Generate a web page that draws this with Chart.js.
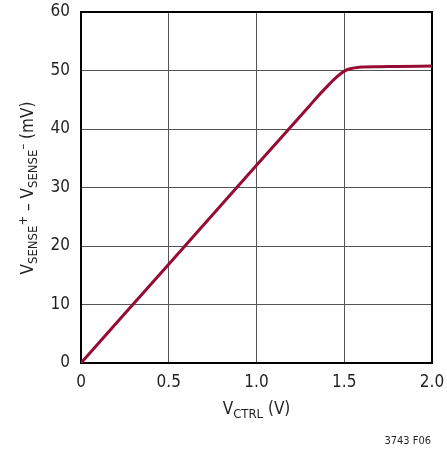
<!DOCTYPE html>
<html>
<head>
<meta charset="utf-8">
<script src="https://cdn.jsdelivr.net/npm/chart.js@4.4.1/dist/chart.umd.min.js"></script>
<style>
  html, body { margin: 0; padding: 0; background: #fff; }
  #wrap { width: 447px; height: 450px; }
</style>
</head>
<body>
<div id="wrap"><canvas id="chart" width="447" height="450"></canvas></div>
<script>
// values
const vCtrl = [0, 0.5, 1.0, 1.3, 1.35, 1.4, 1.45, 1.5, 1.55, 1.6, 1.7, 1.8, 2.0];
const vSense = [0, 16.9, 33.8, 43.9, 45.6, 47.2, 48.7, 49.9, 50.4, 50.6, 50.65, 50.7, 50.75];
const xTicks = [0, 0.5, 1.0, 1.5, 2.0];
const xTickLabels = ['0', '0.5', '1.0', '1.5', '2.0'];
const yTicks = [0, 10, 20, 30, 40, 50, 60];

const FONT = '"Liberation Sans Narrow", "DejaVu Sans Condensed", "Roboto", sans-serif';
const lineColor = '#980b32';

// draws a string made of normal / sub / sup pieces
function drawRichText(ctx, parts, x, y, size) {
    const pieceFont = p => (p.kind === 'normal' ? size : Math.round(size * 0.78)) + 'px ' + FONT;
    let total = 0;
    parts.forEach(p => {
        ctx.font = pieceFont(p);
        total += ctx.measureText(p.text).width;
    });
    let cx = x - total / 2;
    parts.forEach(p => {
        ctx.font = pieceFont(p);
        let dy = 0;
        if (p.kind === 'sub') dy = size * 0.25;
        if (p.kind === 'sup') dy = -size * 0.38;
        ctx.fillText(p.text, cx, y + dy);
        cx += ctx.measureText(p.text).width;
    });
}

const titlesPlugin = {
    id: 'titles',
    beforeDatasetsDraw(chart) {
        const ctx = chart.ctx;
        const a = chart.chartArea;
        ctx.save();
        ctx.strokeStyle = '#000';
        ctx.lineWidth = 2;
        ctx.strokeRect(a.left, a.top, a.right - a.left, a.bottom - a.top);
        ctx.restore();
    },
    afterDraw(chart) {
        const ctx = chart.ctx;
        const a = chart.chartArea;
        ctx.save();
        ctx.fillStyle = '#231f20';
        ctx.textBaseline = 'alphabetic';
        ctx.textAlign = 'left';
        drawRichText(ctx, [
            { text: 'V', kind: 'normal' },
            { text: 'CTRL', kind: 'sub' },
            { text: ' (V)', kind: 'normal' }
        ], (a.left + a.right) / 2, 414, 17);

        ctx.save();
        ctx.translate(33, 188);
        ctx.rotate(-Math.PI / 2);
        drawRichText(ctx, [
            { text: 'V', kind: 'normal' },
            { text: 'SENSE', kind: 'sub' },
            { text: '+', kind: 'sup' },
            { text: ' – V', kind: 'normal' },
            { text: 'SENSE', kind: 'sub' },
            { text: '–', kind: 'sup' },
            { text: ' (mV)', kind: 'normal' }
        ], 0, 0, 17);
        ctx.restore();

        ctx.font = '11px ' + FONT;
        ctx.textAlign = 'right';
        ctx.fillText('3743 F06', 431, 444);
        ctx.restore();
    }
};

new Chart(document.getElementById('chart'), {
    type: 'line',
    data: {
        datasets: [{
            data: vCtrl.map((x, i) => ({ x: x, y: vSense[i] })),
            borderColor: lineColor,
            borderWidth: 3,
            pointRadius: 0,
            cubicInterpolationMode: 'monotone',
            fill: false
        }]
    },
    options: {
        responsive: false,
        animation: false,
        layout: { padding: { top: 12, right: 15, left: 0, bottom: 0 } },
        plugins: { legend: { display: false }, tooltip: { enabled: false } },
        scales: {
            x: {
                type: 'linear',
                min: 0,
                max: 2,
                afterBuildTicks: scale => { scale.ticks = xTicks.map(v => ({ value: v })); },
                afterFit: scale => {
                    scale.height = 87;
                    scale.paddingLeft = 0;
                    scale.paddingRight = 0;
                },
                grid: { color: '#555', lineWidth: 1, drawTicks: false },
                border: { display: false },
                ticks: {
                    color: '#231f20',
                    padding: 9,
                    maxRotation: 0,
                    font: { family: FONT, size: 17 },
                    callback: (v, i) => xTickLabels[i]
                }
            },
            y: {
                min: 0,
                max: 60,
                afterBuildTicks: scale => { scale.ticks = yTicks.map(v => ({ value: v })); },
                afterFit: scale => {
                    scale.width = 81;
                    scale.paddingTop = 0;
                    scale.paddingBottom = 0;
                },
                grid: { color: '#555', lineWidth: 1, drawTicks: false },
                border: { display: false },
                ticks: {
                    color: '#231f20',
                    padding: 11,
                    font: { family: FONT, size: 17 }
                }
            }
        }
    },
    plugins: [titlesPlugin]
});
</script>
</body>
</html>
